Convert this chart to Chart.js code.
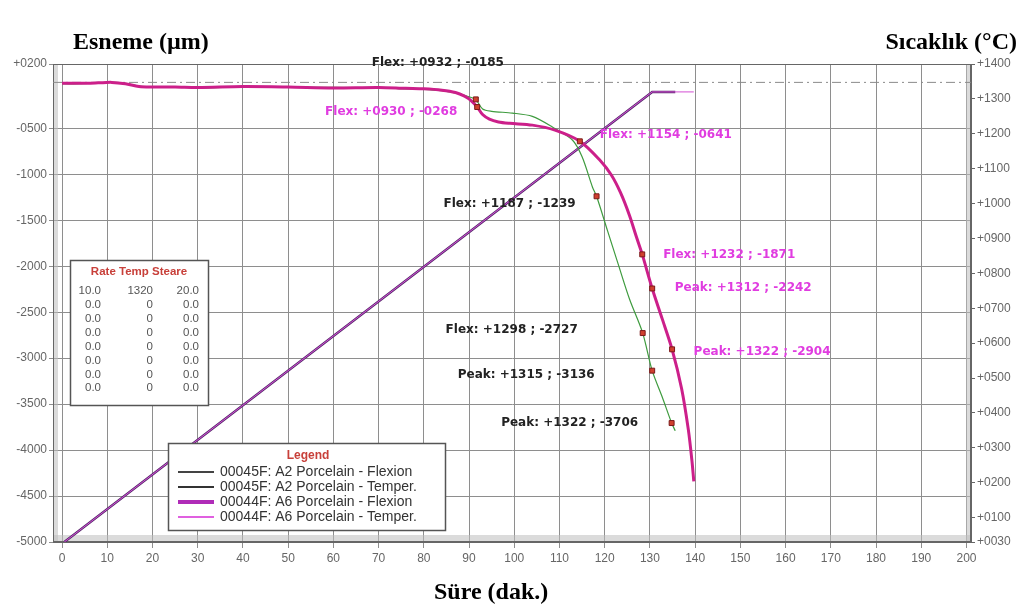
<!DOCTYPE html>
<html>
<head>
<meta charset="utf-8">
<script src="https://cdn.jsdelivr.net/npm/chart.js@4.4.1/dist/chart.umd.min.js"></script>
<style>
  html, body { margin: 0; padding: 0; background: #fff; }
  #wrap { position: relative; width: 1022px; height: 610px; overflow: hidden; }
  #graph { position: absolute; left: 0; top: 0; }
  .ttl { position: absolute; font-family: "Liberation Serif", "Times New Roman", serif; font-weight: bold;
         font-size: 24px; line-height: 1; color: #000; white-space: nowrap; }
</style>
</head>
<body>
<div id="wrap">
  <canvas id="graph" width="1022" height="610"></canvas>
  <div class="ttl" style="left:73px;top:29px">Esneme (µm)</div>
  <div class="ttl" style="right:5px;top:29px">Sıcaklık (°C)</div>
  <div class="ttl" style="left:434px;top:579px">Süre (dak.)</div>
</div>
<script>
// axes
const xTicks = [0,10,20,30,40,50,60,70,80,90,100,110,120,130,140,150,160,170,180,190,200];
const leftTicks = [200,-500,-1000,-1500,-2000,-2500,-3000,-3500,-4000,-4500,-5000];
const rightTicks = [1400,1300,1200,1100,1000,900,800,700,600,500,400,300,200,100,30];

// 00045F A2 flexion (min, µm)
const timeA2 = [0,4,8,11,14,17,20,25,30,40,50,60,70,76,80,84,87,89,90.5,91.5,93,95,99.6,104,108.5,112.9,115,117.3,118.2,120.6,123,125.5,128.4,130.5,132.7,134.8,135.6];
const flexA2 = [-15,-15,-5,0,-10,-40,-55,-45,-60,-50,-55,-55,-60,-70,-75,-90,-115,-140,-165,-185,-290,-315,-334,-370,-487,-629,-810,-1140,-1239,-1610,-1980,-2360,-2727,-3136,-3420,-3706,-3790];

// 00044F A6 flexion
const timeA6 = [0,4,8,11,14,17,20,25,30,40,50,60,70,76,80,84,87,89,90.5,91.8,93,94.5,96.5,99,104,109,114.5,119,121.5,123.5,125.5,127,128.3,130.5,132.7,134.9,137,138.5,139.3,139.7];
const flexA6 = [-10,-10,-5,0,-15,-45,-50,-50,-55,-45,-50,-60,-55,-65,-70,-85,-110,-150,-200,-268,-350,-400,-430,-445,-465,-520,-641,-850,-1010,-1200,-1450,-1680,-1871,-2242,-2570,-2904,-3330,-3780,-4120,-4340];

// temperature (°C)
const tempTimeA2 = [0.5,130.5,135.6];
const tempA2 = [30,1320,1320];
const tempTimeA6 = [0.5,130.5,139.7];
const tempA6 = [30,1320,1320];

// reported points
const markKinds = ['Flex','Flex','Flex','Peak','Peak'];
const markTimeA2 = [91.5,118.2,128.4,130.5,134.8];
const markFlexA2 = [-185,-1239,-2727,-3136,-3706];
const markTempA2 = [932,1187,1298,1315,1322];
const markTimeA6 = [91.8,114.5,128.3,130.5,134.9];
const markFlexA6 = [-268,-641,-1871,-2242,-2904];
const markTempA6 = [930,1154,1232,1312,1322];

// program table
const rateHeader = ['Rate','Temp','Steare'];
const rateRows = [['10.0','1320','20.0'],['0.0','0','0.0'],['0.0','0','0.0'],['0.0','0','0.0'],
                  ['0.0','0','0.0'],['0.0','0','0.0'],['0.0','0','0.0'],['0.0','0','0.0']];

const legendNames = ['00045F: A2 Porcelain - Flexion','00045F: A2 Porcelain - Temper.',
                     '00044F: A6 Porcelain - Flexion','00044F: A6 Porcelain - Temper.'];

const xMin = -2, xMax = 201;

function pad4(n) { return String(Math.abs(Math.round(n))).padStart(4, '0'); }
function signed(n) { return (n < 0 ? '-' : '+') + pad4(n); }
function pts(xs, ys) { return xs.map((x, i) => ({ x: x, y: ys[i] })); }

// label placement relative to its marker (px)
const noteOffA2 = [[-38,-37],[-87,8],[-131,-3],[-126,4],[-102,0]];
const noteOffA6 = [[-86,5],[86,-6],[87,1],[91,-1],[90,3]];
const colA2Text = '#222222';
const colA6Text = '#e03ce0';

const framePlugin = {
  id: 'frame',
  beforeDatasetsDraw(chart) {
    const { ctx, chartArea: a } = chart;
    ctx.save();
    ctx.fillStyle = 'rgba(190,190,190,0.55)';
    ctx.fillRect(a.left, a.top, 5, a.bottom - a.top);
    ctx.fillRect(a.right - 5, a.top, 5, a.bottom - a.top);
    ctx.fillRect(a.left, a.bottom - 7, a.right - a.left, 7);
    ctx.strokeStyle = '#666';
    ctx.lineWidth = 1;
    ctx.strokeRect(a.left + 0.5, a.top + 0.5, a.right - a.left - 1, a.bottom - a.top - 1);
    ctx.restore();
  }
};

const notePlugin = {
  id: 'notes',
  afterDatasetsDraw(chart) {
    const { ctx } = chart;
    const sx = chart.scales.x, sy = chart.scales.y;
    ctx.save();
    ctx.font = 'bold 12px "DejaVu Sans", sans-serif';
    ctx.textAlign = 'center';
    ctx.textBaseline = 'middle';
    const put = (ts, vs, temps, offs, col) => {
      ts.forEach((t, i) => {
        const px = sx.getPixelForValue(t), py = sy.getPixelForValue(vs[i]);
        ctx.fillStyle = col;
        ctx.fillText(markKinds[i] + ': +' + pad4(temps[i]) + ' ; ' + signed(vs[i]), px + offs[i][0], py + offs[i][1]);
      });
    };
    put(markTimeA2, markFlexA2, markTempA2, noteOffA2, colA2Text);
    put(markTimeA6, markFlexA6, markTempA6, noteOffA6, colA6Text);

    // program table box
    ctx.fillStyle = '#fff';
    ctx.fillRect(70, 260, 138, 145);
    ctx.strokeStyle = '#555';
    ctx.lineWidth = 1.5;
    ctx.strokeRect(70.5, 260.5, 138, 145);
    ctx.font = 'bold 11.5px "Liberation Sans", Arial, sans-serif';
    ctx.fillStyle = '#c8403a';
    ctx.textAlign = 'center';
    ctx.fillText(rateHeader.join(' '), 139, 272);
    ctx.font = '11.5px "Liberation Sans", Arial, sans-serif';
    ctx.fillStyle = '#555';
    ctx.textAlign = 'right';
    const colX = [101, 153, 199];
    rateRows.forEach((row, r) => {
      row.forEach((cell, c) => ctx.fillText(cell, colX[c], 291 + r * 13.9));
    });

    // legend box
    ctx.fillStyle = '#fff';
    ctx.fillRect(168, 443, 277, 87);
    ctx.strokeStyle = '#555';
    ctx.lineWidth = 1.5;
    ctx.strokeRect(168.5, 443.5, 277, 87);
    ctx.font = 'bold 12px "Liberation Sans", Arial, sans-serif';
    ctx.fillStyle = '#c8403a';
    ctx.textAlign = 'center';
    ctx.fillText('Legend', 308, 456);
    const legCols = ['#444444', '#333333', '#b02cb8', '#e060e0'];
    const legW = [2, 2, 4, 2];
    ctx.font = '14px "Liberation Sans", Arial, sans-serif';
    ctx.textAlign = 'left';
    legendNames.forEach((name, i) => {
      const y = 472 + i * 15;
      ctx.strokeStyle = legCols[i];
      ctx.lineWidth = legW[i];
      ctx.beginPath(); ctx.moveTo(178, y); ctx.lineTo(214, y); ctx.stroke();
      ctx.fillStyle = '#333';
      ctx.fillText(name, 220, y);
    });
    ctx.restore();
  }
};

const tickFont = { family: '"Liberation Sans", Arial, sans-serif', size: 12 };

new Chart(document.getElementById('graph'), {
  type: 'scatter',
  data: {
    datasets: [
      { label: 'A2 marks', data: pts(markTimeA2, markFlexA2), yAxisID: 'y', order: 0,
        pointStyle: 'rect', pointRadius: 3.5, backgroundColor: '#d0402e', borderColor: '#7a1a1a', borderWidth: 1 },
      { label: 'A6 marks', data: pts(markTimeA6, markFlexA6), yAxisID: 'y', order: 0,
        pointStyle: 'rect', pointRadius: 3.5, backgroundColor: '#d0402e', borderColor: '#7a1a1a', borderWidth: 1 },
      { label: legendNames[2], data: pts(timeA6, flexA6), yAxisID: 'y', order: 1, showLine: true,
        borderColor: '#cc1f8a', borderWidth: 3, pointRadius: 0, tension: 0.3 },
      { label: legendNames[0], data: pts(timeA2, flexA2), yAxisID: 'y', order: 2, showLine: true,
        borderColor: '#3e9b3e', borderWidth: 1.2, pointRadius: 0, tension: 0.3 },
      { label: legendNames[3], data: pts(tempTimeA6, tempA6), yAxisID: 'yR', order: 3, showLine: true,
        borderColor: '#d44fd4', borderWidth: 1, pointRadius: 0 },
      { label: legendNames[1], data: pts(tempTimeA2, tempA2), yAxisID: 'yR', order: 4, showLine: true,
        borderColor: '#5b2c6f', borderWidth: 2.5, pointRadius: 0 },
      { label: 'zero', data: pts([xMin, xMax], [0, 0]), yAxisID: 'y', order: 5, showLine: true,
        borderColor: '#8a8a8a', borderWidth: 1, borderDash: [9, 4, 2, 4], pointRadius: 0 }
    ]
  },
  options: {
    responsive: false,
    animation: false,
    layout: { padding: { top: 64, left: 0, right: 0, bottom: 0 } },
    plugins: { legend: { display: false }, tooltip: { enabled: false } },
    scales: {
      x: {
        type: 'linear', position: 'bottom', min: xMin, max: xMax,
        afterBuildTicks: s => { s.ticks = xTicks.map(v => ({ value: v })); },
        afterFit: s => { s.height = 68; },
        ticks: { font: tickFont, color: '#666', padding: 3, maxRotation: 0, callback: v => String(v) },
        grid: { color: '#8e8e8e', lineWidth: 1, tickLength: 6 },
        border: { color: '#666' }
      },
      y: {
        type: 'linear', position: 'left', min: -5000, max: 200,
        afterBuildTicks: s => { s.ticks = leftTicks.map(v => ({ value: v })); },
        afterFit: s => { s.width = 53; },
        ticks: { font: tickFont, color: '#666', padding: 2, callback: v => signed(v) },
        grid: { color: '#8e8e8e', lineWidth: 1, tickLength: 4 },
        border: { color: '#666' }
      },
      yR: {
        type: 'linear', position: 'right', min: 30, max: 1400,
        afterBuildTicks: s => { s.ticks = rightTicks.map(v => ({ value: v })); },
        afterFit: s => { s.width = 51; },
        ticks: { font: tickFont, color: '#666', padding: 2, callback: v => '+' + pad4(v) },
        grid: { drawOnChartArea: false, color: '#666', tickLength: 4 },
        border: { color: '#666' }
      }
    }
  },
  plugins: [framePlugin, notePlugin]
});
</script>
</body>
</html>
